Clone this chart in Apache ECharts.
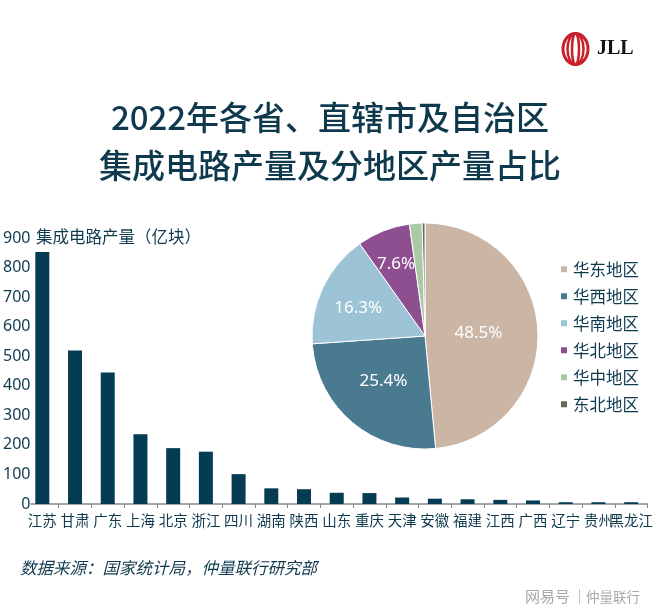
<!DOCTYPE html>
<html lang="zh-CN">
<head>
    <meta charset="UTF-8" />
    <title>2022年各省、直辖市及自治区集成电路产量及分地区产量占比</title>
    <script src="https://cdnjs.cloudflare.com/ajax/libs/echarts/6.0.0/echarts.min.js"></script>
    <style>
        html, body { margin: 0; padding: 0; background: #fff; }
        #main { width: 660px; height: 613px; }
    </style>
</head>
<body>
<div id="main"></div>
<script>
    var provinces = ['江苏', '甘肃', '广东', '上海', '北京', '浙江', '四川', '湖南', '陕西',
                     '山东', '重庆', '天津', '安徽', '福建', '江西', '广西', '辽宁', '贵州', '黑龙江'];
    var output = [853, 519, 445, 236, 189, 177, 101, 53, 50, 38, 37, 22, 18, 16, 14, 12, 6, 6, 6];

    var regions = ['华东地区', '华西地区', '华南地区', '华北地区', '华中地区', '东北地区'];
    var shares = [48.5, 25.4, 16.3, 7.6, 1.8, 0.4];
    var regionColors = ['#cbb5a5', '#4a7a90', '#9cc3d6', '#8e4f91', '#abc9a6', '#6b6558'];
    // label nudges, the original labels are not on the radius midpoint
    var labelOffsets = [[-6, 0], [-3, 0], [-13, -2], [-7, -17], [0, 0], [0, 0]];

    var dark = '#0f3a4e';
    var axisGrey = '#7f8c92';
    var cjk = '"Noto Sans CJK SC", "Noto Sans", sans-serif';

    var chart = echarts.init(document.getElementById('main'));
    chart.setOption({
        backgroundColor: '#fff',
        animation: false,
        textStyle: { fontFamily: cjk },
        title: [
            {
                text: '2022年各省、直辖市及自治区',
                left: 'center', top: 96,
                textStyle: { fontSize: 33, fontWeight: 500, color: dark, fontFamily: cjk }
            },
            {
                text: '集成电路产量及分地区产量占比',
                left: 'center', top: 144,
                textStyle: { fontSize: 33, fontWeight: 500, color: dark, fontFamily: cjk }
            }
        ],
        legend: {
            data: regions,
            orient: 'vertical',
            left: 554, top: 256,
            itemWidth: 8, itemHeight: 8, itemGap: 10.5,
            icon: 'rect',
            textStyle: { fontSize: 16.5, color: dark, fontFamily: cjk }
        },
        grid: { left: 25.7, right: 12.5, top: 238, bottom: 109 },
        xAxis: {
            type: 'category',
            data: provinces,
            axisLine: { show: true, lineStyle: { color: axisGrey, width: 1.5 } },
            axisTick: { show: true, length: 4, lineStyle: { color: axisGrey } },
            axisLabel: { interval: 0, hideOverlap: false, fontSize: 14.5, color: dark, margin: 9, fontFamily: cjk }
        },
        yAxis: {
            type: 'value',
            min: 0, max: 900, interval: 100,
            axisLine: { show: false },
            axisTick: { show: false },
            splitLine: { show: false },
            axisLabel: {
                fontSize: 16, color: dark, margin: -4.5, fontFamily: '"Noto Sans", sans-serif',
                backgroundColor: '#fff'
            }
        },
        series: [
            {
                type: 'bar',
                data: output,
                barWidth: 14,
                itemStyle: { color: '#053c54' }
            },
            {
                type: 'pie',
                center: [425, 336],
                radius: [0, 113],
                startAngle: 90,
                clockwise: true,
                data: regions.map(function (name, i) {
                    return {
                        name: name,
                        value: shares[i],
                        itemStyle: { color: regionColors[i] },
                        label: { show: i < 4, offset: labelOffsets[i] }
                    };
                }),
                itemStyle: { borderColor: '#fff', borderWidth: 1 },
                label: {
                    position: 'inside',
                    formatter: function (p) { return p.value.toFixed(1) + '%'; },
                    fontSize: 17,
                    color: '#fff',
                    fontFamily: '"Noto Sans", sans-serif'
                },
                labelLine: { show: false },
                emphasis: { disabled: true }
            }
        ],
        graphic: [
            // JLL logo
            { type: 'ellipse', shape: { cx: 575.5, cy: 49, rx: 12.5, ry: 15.5 }, style: { fill: 'none', stroke: '#c8202c', lineWidth: 3 } },
            { type: 'ellipse', shape: { cx: 575.5, cy: 49, rx: 8, ry: 15.5 }, style: { fill: 'none', stroke: '#c8202c', lineWidth: 2.5 } },
            { type: 'ellipse', shape: { cx: 575.5, cy: 49, rx: 3.5, ry: 15.5 }, style: { fill: 'none', stroke: '#c8202c', lineWidth: 2.5 } },
            { type: 'text', left: 597, top: 39, style: { text: 'JLL', fontSize: 20, fontWeight: 'bold', fill: '#111', fontFamily: '"Liberation Serif", serif' } },
            // y axis name
            { type: 'text', left: 36, top: 228, style: { text: '集成电路产量（亿块）', fontSize: 16.5, fill: dark, fontFamily: cjk } },
            // source
            { type: 'text', left: 20, top: 559, style: { text: '数据来源：国家统计局，仲量联行研究部', fontSize: 16.5, fontStyle: 'italic', fill: dark, fontFamily: cjk } },
            // watermark
            { type: 'text', left: 525, top: 589, style: { text: '网易号', fontSize: 15, fill: '#a8a8a8', fontFamily: cjk } },
            { type: 'rect', shape: { x: 579, y: 589, width: 1, height: 15 }, style: { fill: '#c4c4c4' } },
            { type: 'text', left: 586, top: 590, style: { text: '仲量联行', fontSize: 13.5, fill: '#a8a8a8', fontFamily: cjk } }
        ]
    });
</script>
</body>
</html>
